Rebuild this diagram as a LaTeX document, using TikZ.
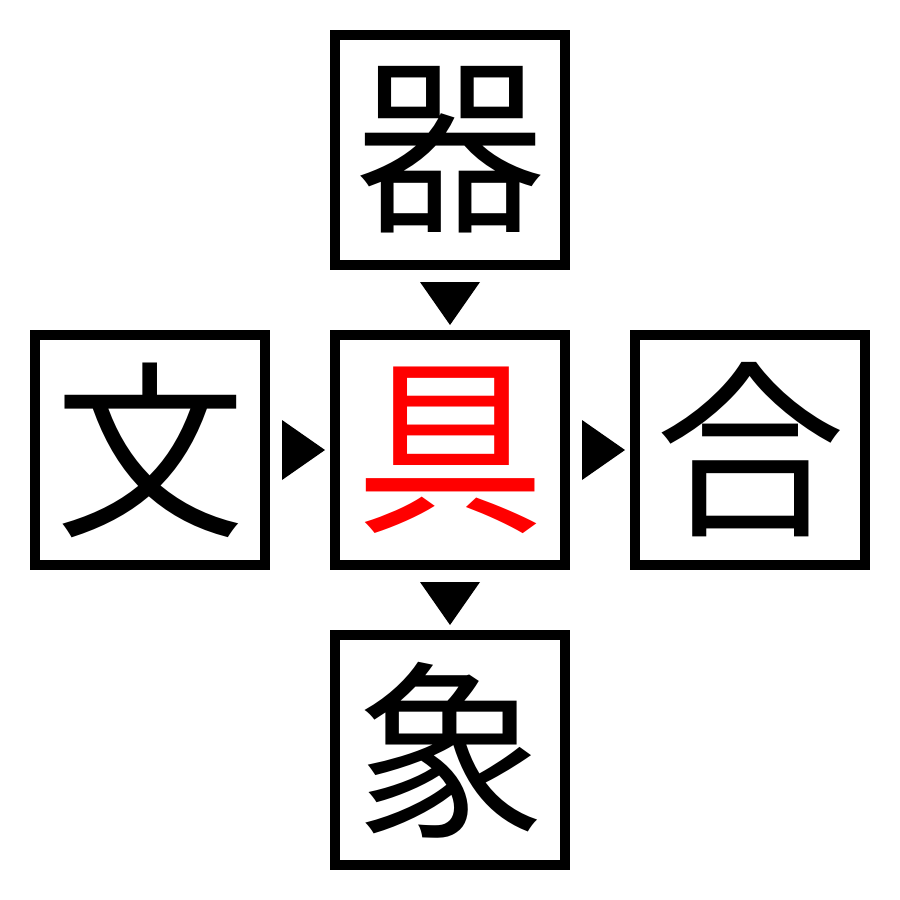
\documentclass[tikz,border=0pt]{standalone}
\usepackage{fontspec}
\newfontfamily\cjk{Noto Sans CJK JP}
\begin{document}
\begin{tikzpicture}[x=0.01cm,y=-0.01cm,
  box/.style={draw=black,line width=10*0.01cm,minimum size=230*0.01cm,inner sep=0pt,outer sep=0pt,font=\cjk\fontsize{54}{54}\selectfont},
  tri/.style={fill=black,draw=none}]
\useasboundingbox (0,0) rectangle (900,900);
\node[box] (top) at (450,150) {器};
\node[box] (left) at (150,450) {文};
\node[box,text=red] (mid) at (450,450) {具};
\node[box] (right) at (750,450) {合};
\node[box] (bot) at (450,750) {象};
\fill[tri] (420,282) -- (480,282) -- (450,325) -- cycle;
\fill[tri] (420,582) -- (480,582) -- (450,625) -- cycle;
\fill[tri] (282,420) -- (282,480) -- (325,450) -- cycle;
\fill[tri] (582,420) -- (582,480) -- (625,450) -- cycle;
\end{tikzpicture}
\end{document}
